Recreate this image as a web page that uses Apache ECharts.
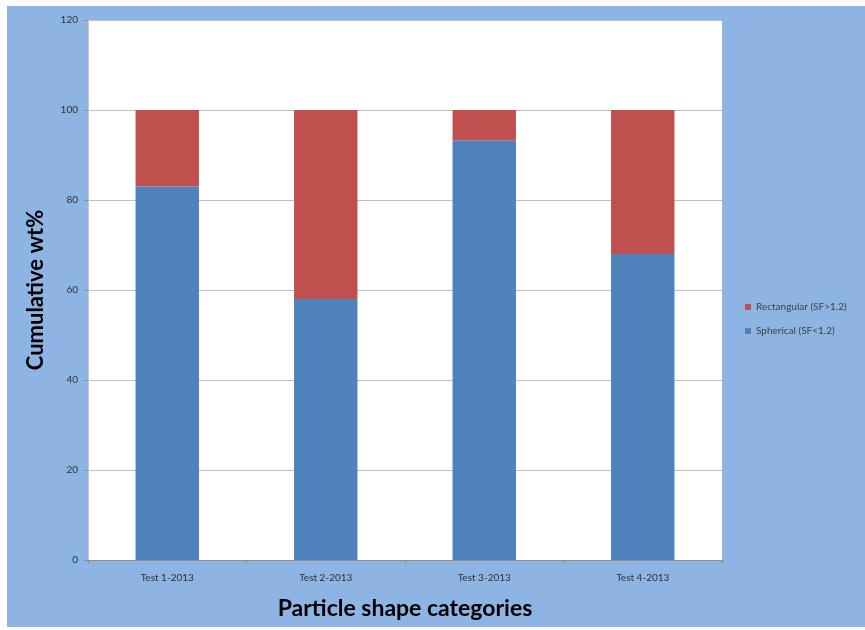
<!DOCTYPE html>
<html>
<head>
<meta charset="utf-8">
<script src="https://cdn.jsdelivr.net/npm/echarts@6/dist/echarts.min.js"></script>
<style>
  html, body { margin: 0; padding: 0; background: #ffffff; }
  #frame { position: absolute; left: 7px; top: 6px; width: 858px; height: 621px; background: #8EB4E3; }
  #chart { position: absolute; left: 0; top: 0; width: 865px; height: 630px; }
</style>
</head>
<body>
<div id="frame"></div>
<div id="chart"></div>
<script>
// Shape distribution per test run (wt%)
const categories = ['Test 1-2013', 'Test 2-2013', 'Test 3-2013', 'Test 4-2013'];
const sphericalValues = [83, 58, 93.3, 68];
const rectangularValues = [17, 42, 6.7, 32];
const seriesNames = ['Spherical (SF<1.2)', 'Rectangular (SF>1.2)'];

const chart = echarts.init(document.getElementById('chart'), null, { renderer: 'canvas' });
const fontFamily = 'Lato, "Liberation Sans", sans-serif';

chart.setOption({
  backgroundColor: 'transparent',
  animation: false,
  grid: {
    left: 88, right: 143, top: 20, bottom: 70,
    show: true, backgroundColor: '#ffffff', borderWidth: 0
  },
  legend: {
    orient: 'vertical',
    left: 740, top: 297,
    itemWidth: 6, itemHeight: 6, itemGap: 14,
    icon: 'rect',
    data: [seriesNames[1], seriesNames[0]],
    textStyle: { fontFamily, fontSize: 10, color: '#404040' }
  },
  xAxis: {
    type: 'category',
    data: categories,
    name: 'Particle shape categories',
    nameLocation: 'middle',
    nameGap: 37,
    nameTextStyle: { fontFamily, fontSize: 23, fontWeight: 'bold', color: '#000000' },
    axisLine: { lineStyle: { color: '#8c8c8c', width: 1 } },
    axisTick: { show: true, length: 4, lineStyle: { color: '#8c8c8c' } },
    axisLabel: { fontFamily, fontSize: 10, color: '#303030', margin: 13 }
  },
  yAxis: {
    type: 'value',
    min: 0, max: 120, interval: 20,
    name: 'Cumulative wt%',
    nameLocation: 'middle',
    nameGap: 41,
    nameTextStyle: { fontFamily, fontSize: 22, fontWeight: 'bold', color: '#000000' },
    axisLine: { show: true, lineStyle: { color: '#c8c8c8' } },
    axisTick: { show: true, length: 4, lineStyle: { color: '#8c8c8c' } },
    axisLabel: { fontFamily, fontSize: 10, color: '#303030', margin: 10 },
    splitLine: { lineStyle: { color: '#bfbfbf', width: 1 } }
  },
  series: [
    {
      name: seriesNames[0],
      type: 'bar',
      stack: 'total',
      data: sphericalValues,
      barWidth: '40%',
      itemStyle: { color: '#4F81BD' }
    },
    {
      name: seriesNames[1],
      type: 'bar',
      stack: 'total',
      data: rectangularValues,
      barWidth: '40%',
      itemStyle: { color: '#C0504D' }
    }
  ]
});
</script>
</body>
</html>
